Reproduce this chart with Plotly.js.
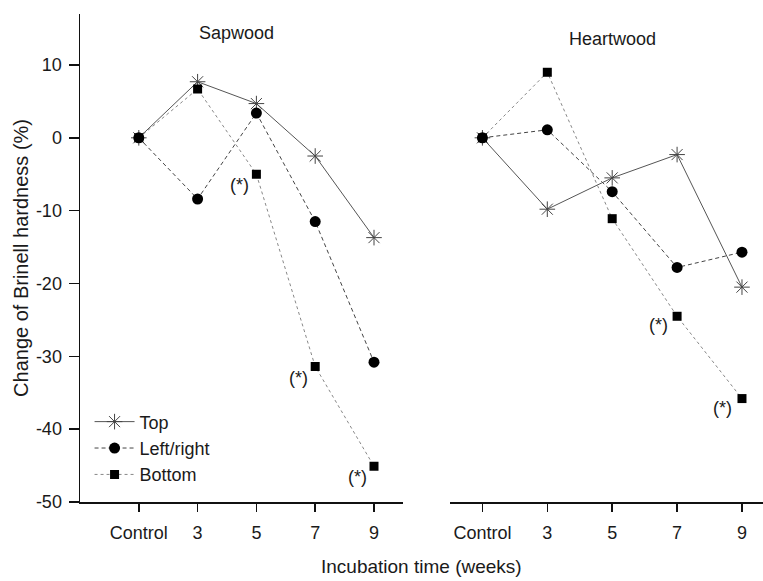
<!DOCTYPE html>
<html>
<head>
<meta charset="utf-8">
<script src="https://cdn.plot.ly/plotly-3.0.1.min.js"></script>
<style>html,body{margin:0;padding:0;background:#fff;}#chart{width:763px;height:581px;}</style>
</head>
<body>
<div id="chart"></div>
<script>
var categories = ['Control', '3', '5', '7', '9'];
var catIndex = [0, 1, 2, 3, 4];

var yTickVals = [-50, -40, -30, -20, -10, 0, 10];
var yTickText = ['-50', '-40', '-30', '-20', '-10', '0', '10'];

var sapTop = [0, 7.7, 4.7, -2.5, -13.7];
var sapLR = [0, -8.4, 3.4, -11.5, -30.8];
var sapBottom = [0, 6.7, -5.0, -31.4, -45.1];

var heartTop = [0, -9.8, -5.5, -2.3, -20.5];
var heartLR = [0, 1.1, -7.4, -17.8, -15.7];
var heartBottom = [0, 9.0, -11.1, -24.5, -35.8];

var sapStarIdx = [2, 3, 4];
var heartStarIdx = [3, 4];

var FONT = 'Liberation Sans, Arial, Helvetica, sans-serif';
var TXT = '#1a1a1a';

var styles = {
  top: {line: {color: '#555', width: 1, dash: 'solid'},
        marker: {symbol: 'asterisk-open', size: 13, color: '#444', line: {color: '#444', width: 1}}},
  lr: {line: {color: '#444', width: 1, dash: '4px,3px'},
       marker: {symbol: 'circle', size: 11, color: '#000'}},
  bot: {line: {color: '#888', width: 1, dash: 'dot'},
        marker: {symbol: 'square', size: 9, color: '#000'}}
};

function tr(y, name, st, xa, show) {
  return {x: catIndex, y: y, name: name, type: 'scatter', mode: 'lines+markers',
    xaxis: xa, yaxis: 'y', line: st.line, marker: st.marker, showlegend: show, hoverinfo: 'none'};
}

var data = [
  tr(sapTop, 'Top', styles.top, 'x', true),
  tr(sapLR, 'Left/right', styles.lr, 'x', true),
  tr(sapBottom, 'Bottom', styles.bot, 'x', true),
  tr(heartTop, 'Top', styles.top, 'x2', false),
  tr(heartLR, 'Left/right', styles.lr, 'x2', false),
  tr(heartBottom, 'Bottom', styles.bot, 'x2', false)
];

var annotations = [];
sapStarIdx.forEach(function (i) {
  annotations.push({x: catIndex[i], y: sapBottom[i], xref: 'x', yref: 'y', text: '(*)', showarrow: false,
    xshift: -17, yshift: -11, font: {family: FONT, size: 18, color: TXT}});
});
heartStarIdx.forEach(function (i) {
  annotations.push({x: catIndex[i], y: heartBottom[i], xref: 'x2', yref: 'y', text: '(*)', showarrow: false,
    xshift: -19, yshift: -9, font: {family: FONT, size: 18, color: TXT}});
});
annotations.push({x: 0.2285, y: 0.961, xref: 'paper', yref: 'paper', text: 'Sapwood', showarrow: false,
  xanchor: 'center', yanchor: 'middle', font: {family: FONT, size: 18, color: TXT}});
annotations.push({x: 0.78, y: 0.949, xref: 'paper', yref: 'paper', text: 'Heartwood', showarrow: false,
  xanchor: 'center', yanchor: 'middle', font: {family: FONT, size: 18, color: TXT}});
annotations.push({x: 0.5, y: -0.133, xref: 'paper', yref: 'paper', text: 'Incubation time (weeks)', showarrow: false,
  xanchor: 'center', yanchor: 'middle', font: {family: FONT, size: 19, color: TXT}});
annotations.push({x: -0.0865, y: 0.5, xref: 'paper', yref: 'paper', text: 'Change of Brinell hardness (%)', showarrow: false,
  textangle: -90, xanchor: 'center', yanchor: 'middle', font: {family: FONT, size: 20, color: TXT}});

var xcommon = {
  tickmode: 'array', tickvals: catIndex, ticktext: categories,
  showline: true, linecolor: '#111', linewidth: 1.5, ticks: 'outside', ticklen: 8, tickwidth: 1.5, tickcolor: '#111',
  showgrid: false, zeroline: false, tickfont: {family: FONT, size: 18, color: TXT}, ticklabelstandoff: 6,
  fixedrange: true
};

var layout = {
  width: 763, height: 581,
  margin: {l: 80, r: 0, t: 14, b: 79},
  paper_bgcolor: '#fff', plot_bgcolor: '#fff',
  showlegend: true,
  legend: {x: 0.014, y: 0.202, xanchor: 'left', yanchor: 'top', bgcolor: 'rgba(0,0,0,0)',
    font: {family: FONT, size: 18, color: TXT}, itemwidth: 40},
  xaxis: Object.assign({}, xcommon, {domain: [0, 0.4735], range: [-1, 4.5], anchor: 'y'}),
  xaxis2: Object.assign({}, xcommon, {domain: [0.5417, 1], range: [-0.5, 4.324], anchor: 'y'}),
  yaxis: {
    range: [-50, 17], tickmode: 'array', tickvals: yTickVals, ticktext: yTickText,
    showline: true, linecolor: '#111', linewidth: 1.5, ticks: 'outside', ticklen: 10, tickwidth: 1.5, tickcolor: '#111',
    showgrid: false, zeroline: false, tickfont: {family: FONT, size: 18, color: TXT}, ticklabelstandoff: 3,
    fixedrange: true
  },
  annotations: annotations
};

Plotly.newPlot('chart', data, layout, {displayModeBar: false, staticPlot: true});
</script>
</body>
</html>
